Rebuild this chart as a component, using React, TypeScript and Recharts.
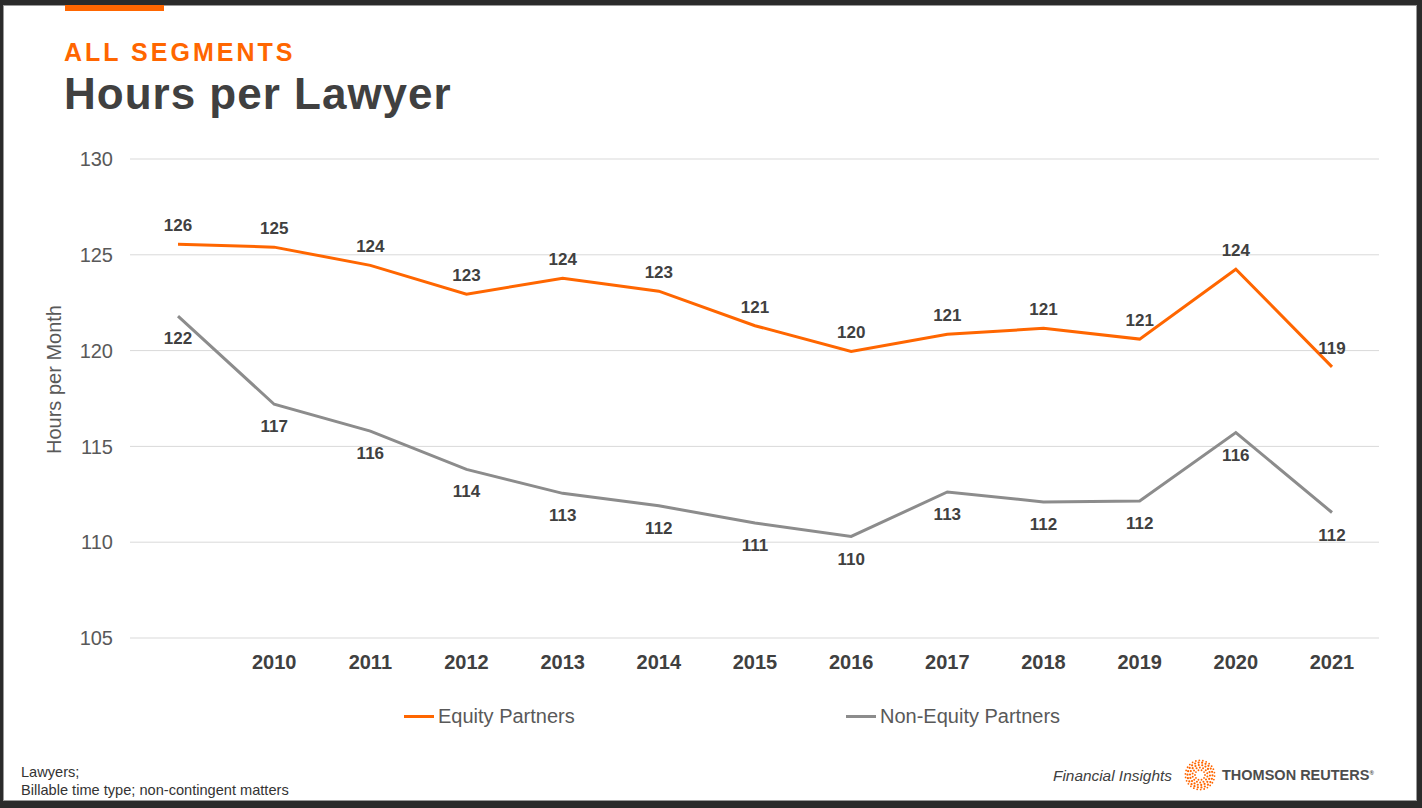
import React from 'react';
import {
  LineChart,
  Line,
  XAxis,
  YAxis,
  CartesianGrid,
  Legend,
  LabelList
} from 'recharts';

const years = ['', '2010', '2011', '2012', '2013', '2014', '2015', '2016', '2017', '2018', '2019', '2020', '2021'];
const equityPartners = [125.55, 125.4, 124.45, 122.94, 123.78, 123.1, 121.3, 119.96, 120.85, 121.16, 120.6, 124.25, 119.15];
const nonEquityPartners = [121.8, 117.2, 115.8, 113.8, 112.55, 111.9, 111.0, 110.3, 112.62, 112.1, 112.15, 115.72, 111.55];
const yTicks = [105, 110, 115, 120, 125, 130];

const ORANGE = '#FF6600';
const GREY = '#8C8C8C';
const FONT = 'Arial, "Liberation Sans", sans-serif';

const data = years.map((year, i) => ({
  year,
  equity: equityPartners[i],
  nonEquity: nonEquityPartners[i],
}));

const series = [
  { key: 'equity', name: 'Equity Partners', color: ORANGE, left: 404 },
  { key: 'nonEquity', name: 'Non-Equity Partners', color: GREY, left: 846 },
];

const ChartLegend = () => (
  <div style={{ position: 'relative', width: 1422, height: 24, fontFamily: FONT }}>
    {series.map(s => (
      <div
        key={s.key}
        style={{ position: 'absolute', left: s.left, top: 0, height: 24, display: 'flex', alignItems: 'center' }}
      >
        <span style={{ display: 'inline-block', width: 30, height: 3, background: s.color }} />
        <span style={{ fontSize: 20, color: '#595959', marginLeft: 4 }}>{s.name}</span>
      </div>
    ))}
  </div>
);

// y axis title sits a little above the plot's middle, as in the slide
const YTitle = (props: any) => {
  const { viewBox } = props;
  const x = viewBox.x + 24;
  const y = viewBox.y + viewBox.height / 2 - 19;
  return (
    <text
      x={x}
      y={y}
      dy={7}
      transform={`rotate(-90, ${x}, ${y})`}
      textAnchor="middle"
      fontSize={20}
      fill="#595959"
      fontFamily={FONT}
    >
      Hours per Month
    </text>
  );
};

// decorative dotted-circle logo
const Logo = () => {
  const dots = [];
  const rings = [
    { r: 5, n: 10, s: 0.9 },
    { r: 7.5, n: 14, s: 1.0 },
    { r: 10, n: 18, s: 1.1 },
    { r: 12.5, n: 22, s: 1.1 },
    { r: 14.6, n: 26, s: 0.9 },
  ];
  rings.forEach((ring, ri) => {
    for (let k = 0; k < ring.n; k++) {
      const a = (k / ring.n) * Math.PI * 2 + ri * 0.2;
      dots.push(
        <circle key={`${ri}-${k}`} cx={16 + ring.r * Math.cos(a)} cy={16 + ring.r * Math.sin(a)} r={ring.s} fill={ORANGE} />
      );
    }
  });
  return (
    <svg width={32} height={32} style={{ position: 'absolute', left: 1184, top: 759 }}>
      {dots}
    </svg>
  );
};

export default function App() {
  return (
    <div style={{ position: 'absolute', left: 0, top: 0, width: 1422, height: 808, background: '#2b2b2b', fontFamily: FONT }}>
      <div style={{ position: 'absolute', left: 3, top: 5, width: 1412, height: 794, background: '#fff', border: '1px solid #9a9a9a' }} />
      <div style={{ position: 'absolute', left: 65, top: 5, width: 99, height: 6, background: ORANGE }} />
      <div style={{ position: 'absolute', left: 64, top: 36, fontSize: 25, fontWeight: 'bold', color: ORANGE, letterSpacing: 3, lineHeight: '32px' }}>
        ALL SEGMENTS
      </div>
      <div style={{ position: 'absolute', left: 64, top: 68, fontSize: 44, fontWeight: 'bold', color: '#404040', letterSpacing: 1, lineHeight: '52px' }}>
        Hours per Lawyer
      </div>

      <div style={{ position: 'absolute', left: 0, top: 0 }}>
        <LineChart
          width={1422}
          height={808}
          data={data}
          margin={{ top: 159, right: 43, bottom: 116, left: 30 }}
        >
          <CartesianGrid vertical={false} stroke="#d9d9d9" strokeWidth={1} />
          <XAxis
            dataKey="year"
            axisLine={false}
            tickLine={false}
            tickMargin={11}
            height={30}
            interval={0}
            padding={{ left: 48, right: 47 }}
            tick={{ fontSize: 20, fontWeight: 'bold', fill: '#404040', fontFamily: FONT }}
          />
          <YAxis
            domain={[105, 130]}
            ticks={yTicks}
            axisLine={false}
            tickLine={false}
            tickMargin={11}
            width={100}
            tick={{ fontSize: 20, fill: '#595959', fontFamily: FONT }}
            label={{ content: (p: any) => <YTitle {...p} /> }}
          />
          <Legend
            verticalAlign="bottom"
            content={() => <ChartLegend />}
            wrapperStyle={{ top: 704, left: 0, bottom: 'auto', width: 1422, height: 24 }}
          />
          <Line
            type="linear"
            dataKey="equity"
            name="Equity Partners"
            stroke={ORANGE}
            strokeWidth={3}
            dot={false}
            isAnimationActive={false}
          >
            <LabelList
              dataKey="equity"
              position="top"
              offset={13}
              formatter={(v: number) => Math.round(v)}
              style={{ fontSize: 17, fontWeight: 'bold', fill: '#404040', fontFamily: FONT }}
            />
          </Line>
          <Line
            type="linear"
            dataKey="nonEquity"
            name="Non-Equity Partners"
            stroke={GREY}
            strokeWidth={3}
            dot={false}
            isAnimationActive={false}
          >
            <LabelList
              dataKey="nonEquity"
              position="bottom"
              offset={16}
              formatter={(v: number) => Math.round(v)}
              style={{ fontSize: 17, fontWeight: 'bold', fill: '#404040', fontFamily: FONT }}
            />
          </Line>
        </LineChart>
      </div>

      <div style={{ position: 'absolute', left: 21, top: 763, fontSize: 14.6, color: '#333', lineHeight: '18px' }}>
        Lawyers;
        <br />
        Billable time type; non-contingent matters
      </div>
      <div style={{ position: 'absolute', left: 1053, top: 766, fontSize: 15.4, fontStyle: 'italic', color: '#404040', lineHeight: '19px' }}>
        Financial Insights
      </div>
      <Logo />
      <div style={{ position: 'absolute', left: 1222, top: 765, fontSize: 14.5, fontWeight: 'bold', color: '#4d4d4d', lineHeight: '20px' }}>
        THOMSON REUTERS<sup style={{ fontSize: 6, verticalAlign: 'top', position: 'relative', top: -2 }}>®</sup>
      </div>
    </div>
  );
}
